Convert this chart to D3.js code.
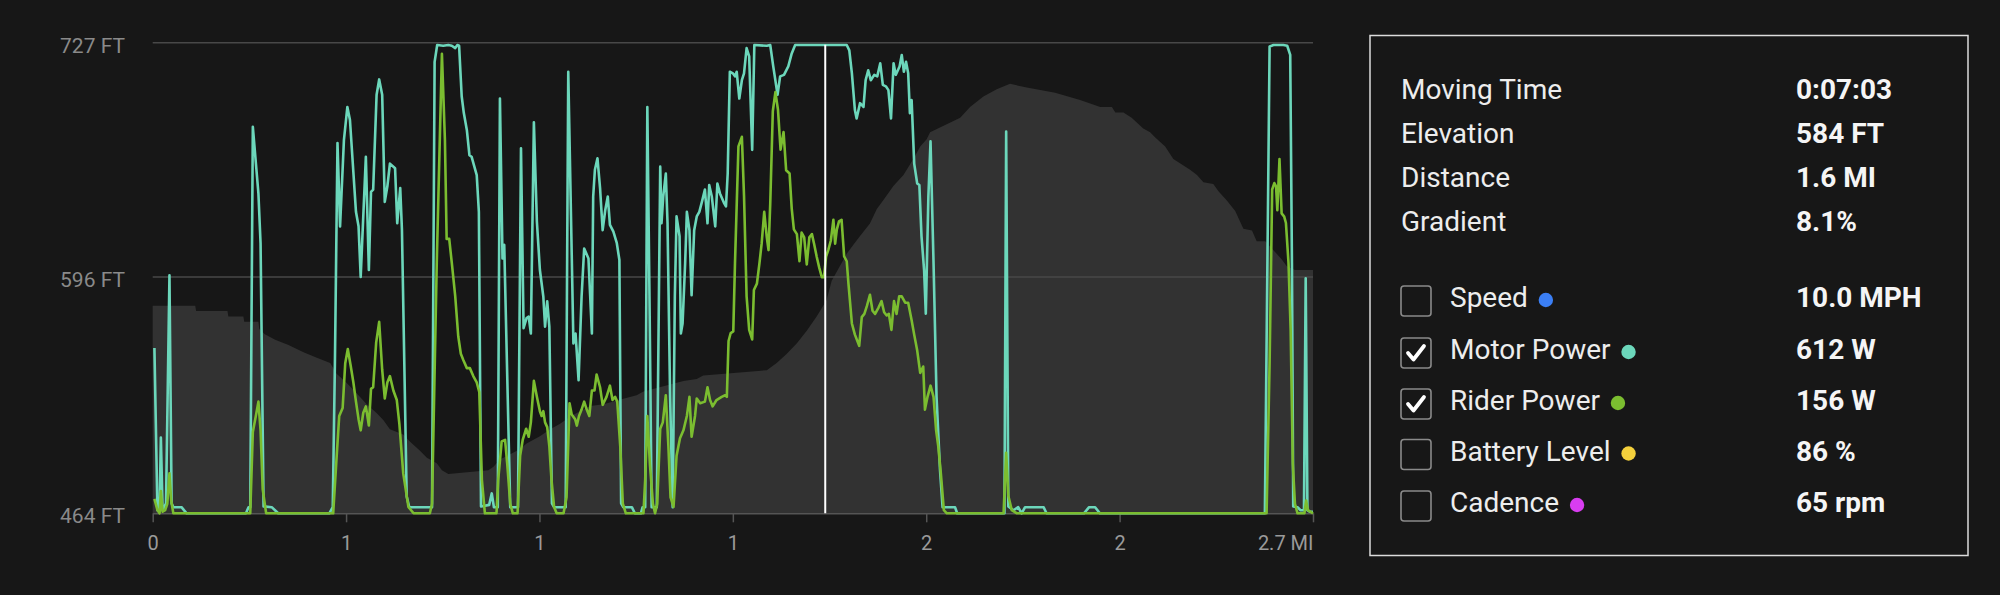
<!DOCTYPE html>
<html>
<head>
<meta charset="utf-8">
<script src="https://cdn.jsdelivr.net/npm/d3@7"></script>
<style>
  html, body { margin: 0; padding: 0; background: #171717; }
  svg { display: block; }
  text { font-family: Roboto, "DejaVu Sans", sans-serif; }
</style>
</head>
<body>
<svg id="chart" width="2000" height="595"></svg>
<script>
// ---------------- DATA ----------------
const distanceMax = 2.7; // miles
const xTickValues = [0, 0.45, 0.9, 1.35, 1.8, 2.25, 2.7];
const xTickLabels = ["0", "1", "1", "1", "2", "2", "2.7 MI"];
const yTickValues = [464, 596, 727];
const yTickLabels = ["464 FT", "596 FT", "727 FT"];
const cursorDistance = 1.565;

// Elevation profile (ft)
const elevDist = [0,0.099,0.101,0.174,0.176,0.211,0.213,0.246,0.248,0.261,0.285,0.316,0.351,0.382,0.413,0.428,0.451,0.475,0.498,0.521,0.537,0.552,0.583,0.599,0.622,0.638,0.661,0.673,0.688,0.781,0.793,0.808,0.832,0.855,0.870,0.901,0.925,0.948,0.971,0.994,1.018,1.049,1.095,1.126,1.142,1.173,1.204,1.235,1.266,1.281,1.429,1.452,1.475,1.499,1.522,1.545,1.568,1.580,1.615,1.630,1.646,1.669,1.685,1.700,1.724,1.747,1.770,1.786,1.801,1.809,1.844,1.879,1.902,1.933,1.964,1.995,2.034,2.100,2.158,2.205,2.232,2.240,2.259,2.278,2.305,2.321,2.333,2.356,2.375,2.395,2.414,2.430,2.445,2.468,2.480,2.499,2.519,2.538,2.558,2.569,2.589,2.608,2.627,2.639,2.658,2.700];
const elevFt = [580,580,577,577,574,574,571,571,567,564,561,558,554,551,548,542,537,531,525,520,516,511,508,504,499,495,492,488,486,488,490,494,497,500,503,507,511,514,518,521,524,525,528,530,532,534,536,538,539,541,544,548,553,559,566,574,583,594,609,614,619,626,634,639,647,653,662,669,673,677,681,685,691,697,701,704,702,699,695,691,691,688,688,685,679,677,674,669,662,659,656,653,649,648,644,639,633,623,622,616,616,611,606,602,600,600];

// Motor power (W)
const motorDist = [0.004,0.011,0.016,0.019,0.023,0.031,0.039,0.044,0.048,0.067,0.079,0.217,0.223,0.227,0.233,0.246,0.251,0.258,0.277,0.292,0.411,0.419,0.424,0.430,0.436,0.445,0.453,0.459,0.473,0.479,0.484,0.490,0.496,0.503,0.508,0.513,0.521,0.527,0.534,0.540,0.546,0.552,0.564,0.569,0.576,0.580,0.591,0.597,0.650,0.656,0.662,0.676,0.688,0.696,0.704,0.709,0.713,0.719,0.724,0.731,0.737,0.742,0.754,0.759,0.764,0.783,0.789,0.794,0.803,0.808,0.814,0.818,0.832,0.850,0.857,0.863,0.870,0.875,0.880,0.887,0.894,0.901,0.909,0.913,0.918,0.923,0.929,0.934,0.961,0.967,0.979,0.984,0.991,0.998,1.004,1.014,1.022,1.025,1.029,1.035,1.041,1.047,1.053,1.059,1.064,1.072,1.080,1.086,1.090,1.095,1.115,1.122,1.136,1.140,1.146,1.151,1.156,1.161,1.173,1.181,1.184,1.188,1.194,1.198,1.204,1.210,1.215,1.219,1.226,1.229,1.233,1.239,1.243,1.249,1.254,1.260,1.266,1.272,1.278,1.285,1.291,1.295,1.301,1.309,1.314,1.320,1.330,1.334,1.338,1.343,1.350,1.355,1.359,1.365,1.371,1.376,1.382,1.388,1.395,1.400,1.429,1.437,1.444,1.454,1.460,1.469,1.479,1.487,1.495,1.615,1.621,1.627,1.634,1.638,1.646,1.654,1.659,1.665,1.671,1.679,1.686,1.693,1.699,1.706,1.712,1.718,1.724,1.729,1.734,1.738,1.743,1.748,1.753,1.758,1.762,1.766,1.772,1.779,1.784,1.789,1.795,1.799,1.805,1.810,1.817,1.824,1.832,1.838,1.867,1.872,1.982,1.986,1.991,2.003,2.014,2.022,2.030,2.073,2.080,2.167,2.179,2.193,2.204,2.588,2.599,2.608,2.631,2.640,2.647,2.651,2.654,2.664,2.671,2.679,2.683,2.687,2.693,2.700];
const motorWatts = [216,4,4,99,4,13,311,13,8,8,0,0,8,8,505,418,353,9,8,0,0,8,196,484,375,488,531,514,394,375,309,388,466,318,420,423,547,567,547,407,427,457,451,379,425,370,22,8,8,590,612,611,612,611,608,612,611,545,523,501,468,466,442,394,9,11,26,8,8,542,333,351,8,8,477,242,255,257,235,511,381,318,283,244,277,244,13,8,8,577,222,235,174,283,346,333,235,414,449,464,425,370,396,414,377,368,353,331,13,8,8,0,0,8,8,531,283,8,8,453,379,414,444,379,152,8,283,388,362,235,248,327,394,370,285,370,388,394,407,423,379,429,414,375,431,418,405,401,444,577,575,571,577,542,566,575,608,597,475,612,611,612,584,547,571,573,584,601,612,612,605,575,527,516,536,531,566,579,566,573,571,588,560,558,553,516,588,573,579,584,599,577,590,575,523,540,457,431,429,362,318,261,414,486,327,152,57,8,8,0,0,499,9,4,8,0,8,8,0,0,8,8,0,0,610,612,612,611,599,327,9,8,4,4,307,4,2,2];

// Rider power (W)
const riderDist = [0.004,0.011,0.016,0.019,0.023,0.029,0.034,0.039,0.043,0.048,0.227,0.233,0.240,0.246,0.251,0.256,0.264,0.420,0.427,0.434,0.442,0.448,0.454,0.461,0.467,0.473,0.479,0.484,0.490,0.496,0.503,0.508,0.513,0.520,0.527,0.534,0.540,0.546,0.552,0.560,0.568,0.574,0.583,0.595,0.607,0.645,0.650,0.661,0.673,0.680,0.684,0.690,0.696,0.704,0.711,0.717,0.723,0.731,0.738,0.746,0.754,0.760,0.766,0.773,0.800,0.804,0.812,0.820,0.825,0.832,0.838,0.849,0.855,0.861,0.869,0.875,0.880,0.887,0.894,0.901,0.905,0.909,0.913,0.918,0.923,0.928,0.934,0.940,0.956,0.963,0.970,0.975,0.983,0.987,0.992,0.998,1.004,1.010,1.016,1.022,1.028,1.033,1.041,1.047,1.056,1.064,1.070,1.076,1.081,1.088,1.094,1.101,1.142,1.146,1.151,1.157,1.164,1.169,1.174,1.181,1.187,1.194,1.200,1.205,1.212,1.219,1.227,1.235,1.243,1.249,1.254,1.262,1.266,1.274,1.285,1.291,1.297,1.303,1.312,1.324,1.332,1.336,1.340,1.345,1.351,1.355,1.363,1.371,1.376,1.382,1.388,1.395,1.399,1.406,1.412,1.417,1.423,1.429,1.433,1.437,1.443,1.449,1.455,1.461,1.468,1.474,1.482,1.487,1.492,1.499,1.505,1.510,1.516,1.522,1.528,1.534,1.539,1.545,1.551,1.557,1.562,1.567,1.572,1.578,1.584,1.588,1.592,1.597,1.603,1.609,1.615,1.619,1.627,1.634,1.644,1.650,1.656,1.662,1.669,1.675,1.681,1.689,1.696,1.702,1.708,1.713,1.719,1.725,1.731,1.737,1.743,1.751,1.758,1.766,1.772,1.779,1.786,1.793,1.797,1.803,1.810,1.817,1.823,1.828,1.834,1.841,1.848,1.980,1.986,1.991,1.999,2.011,2.592,2.599,2.605,2.610,2.614,2.617,2.622,2.627,2.633,2.637,2.643,2.648,2.653,2.658,2.664,2.680,2.684,2.688,2.700];
const riderWatts = [9,2,0,14,1,2,6,25,8,0,0,51,61,70,52,15,0,0,31,61,66,94,103,92,82,70,59,52,63,67,55,78,79,107,120,90,72,82,86,77,71,56,25,4,0,0,6,157,288,234,172,172,157,136,111,100,96,91,91,86,82,76,21,0,0,21,45,46,31,6,0,0,36,46,53,48,57,83,73,64,61,64,57,54,42,21,4,0,0,10,69,62,59,55,61,65,70,65,61,77,77,87,79,68,73,80,71,73,70,42,6,0,0,21,61,31,6,0,6,53,57,74,42,10,4,36,47,52,61,73,48,61,72,69,70,79,71,67,71,73,74,73,108,113,114,157,230,236,199,136,115,109,140,144,157,169,189,173,165,194,252,264,253,228,239,215,213,191,178,175,158,176,173,156,173,175,169,161,154,148,148,161,165,171,184,169,178,183,184,161,158,144,119,112,105,123,125,130,137,127,125,129,133,126,124,125,115,133,125,136,136,132,132,121,112,102,88,92,65,73,80,73,52,42,25,2,0,0,38,11,2,0,0,94,203,207,205,190,222,188,186,182,157,115,31,6,0,0,8,2,0];

// Info panel
const statLabels = ["Moving Time", "Elevation", "Distance", "Gradient"];
const statValues = ["0:07:03", "584 FT", "1.6 MI", "8.1%"];
const seriesNames = ["Speed", "Motor Power", "Rider Power", "Battery Level", "Cadence"];
const seriesReadouts = ["10.0 MPH", "612 W", "156 W", "86 %", "65 rpm"];
const seriesColors = ["#3b7ff5", "#6cd7bb", "#7bbd30", "#f4d03c", "#d83df0"];
const seriesChecked = [false, true, true, false, false];

// ---------------- CHART ----------------
const svg = d3.select("#chart");
const plotLeft = 152.7, plotRight = 1313, plotTop = 42.7, plotBottom = 513.3;

const x = d3.scaleLinear().domain([0, distanceMax]).range([plotLeft, plotRight]);
const yElev = d3.scaleLinear().domain([464, 727]).range([plotBottom, plotTop]);
const yMotor = d3.scaleLinear().domain([0, 615]).range([plotBottom, plotTop]);
const yRider = d3.scaleLinear().domain([0, 295]).range([plotBottom, plotTop]);

const elevData = elevDist.map((d, i) => ({ d, v: elevFt[i] }));
const motorData = motorDist.map((d, i) => ({ d, v: motorWatts[i] }));
const riderData = riderDist.map((d, i) => ({ d, v: riderWatts[i] }));

// elevation area
svg.append("path")
  .datum(elevData)
  .attr("fill", "#323232")
  .attr("d", d3.area()
    .x(p => x(p.d))
    .y0(yElev(464))
    .y1(p => yElev(p.v)));

// gridlines (above baseline)
svg.append("g").selectAll("line")
  .data(yTickValues.slice(1))
  .join("line")
  .attr("x1", x(0)).attr("x2", x(distanceMax))
  .attr("y1", d => yElev(d)).attr("y2", d => yElev(d))
  .attr("stroke", "#484848").attr("stroke-width", 1.5);

// y labels
svg.append("g").selectAll("text")
  .data(yTickValues)
  .join("text")
  .attr("x", 125)
  .attr("y", d => yElev(d) + 10)
  .attr("text-anchor", "end")
  .attr("fill", "#8a8a8a")
  .attr("font-size", 21)
  .text((d, i) => yTickLabels[i]);

// x axis
const xAxis = svg.append("g")
  .attr("transform", `translate(0,${plotBottom})`)
  .call(d3.axisBottom(x).tickValues(xTickValues).tickFormat((d, i) => xTickLabels[i]).tickSize(9).tickSizeOuter(0));
xAxis.select(".domain").attr("stroke", "#555").attr("stroke-width", 1.5);
xAxis.selectAll(".tick line").attr("stroke", "#555").attr("stroke-width", 1.5);
xAxis.selectAll(".tick text")
  .attr("fill", "#9a9a9a")
  .attr("font-size", 20)
  .attr("font-family", 'Roboto, "DejaVu Sans", sans-serif')
  .attr("y", 23);
xAxis.selectAll(".tick text").filter((d, i) => i === xTickValues.length - 1)
  .attr("text-anchor", "end");

// power lines
svg.append("path")
  .datum(motorData)
  .attr("fill", "none")
  .attr("stroke", seriesColors[1])
  .attr("stroke-width", 2.6)
  .attr("stroke-linejoin", "round")
  .attr("d", d3.line().x(p => x(p.d)).y(p => yMotor(p.v)));

svg.append("path")
  .datum(riderData)
  .attr("fill", "none")
  .attr("stroke", seriesColors[2])
  .attr("stroke-width", 2.6)
  .attr("stroke-linejoin", "round")
  .attr("d", d3.line().x(p => x(p.d)).y(p => yRider(p.v)));

// cursor
svg.append("line")
  .attr("x1", x(cursorDistance)).attr("x2", x(cursorDistance))
  .attr("y1", yElev(727) + 2).attr("y2", plotBottom)
  .attr("stroke", "#ffffff").attr("stroke-width", 2);

// ---------------- PANEL ----------------
const panel = svg.append("g");
panel.append("rect")
  .attr("x", 1370).attr("y", 35.5).attr("width", 598).attr("height", 520)
  .attr("fill", "none").attr("stroke", "#dcdcdc").attr("stroke-width", 1.5);

const statBase = [99, 143, 187, 230.5];
panel.append("g").selectAll("text")
  .data(statLabels).join("text")
  .attr("x", 1401).attr("y", (d, i) => statBase[i])
  .attr("fill", "#ededed").attr("font-size", 28)
  .text(d => d);
panel.append("g").selectAll("text")
  .data(statValues).join("text")
  .attr("x", 1796).attr("y", (d, i) => statBase[i])
  .attr("fill", "#f5f5f5").attr("font-size", 28).attr("font-weight", "bold")
  .text(d => d);

const rowBase = [307, 359, 410, 460.5, 512];
const rows = panel.append("g").selectAll("g")
  .data(seriesNames).join("g")
  .attr("transform", (d, i) => `translate(0,${rowBase[i]})`);

rows.append("rect")
  .attr("x", 1401).attr("y", -21).attr("width", 30).attr("height", 30).attr("rx", 3)
  .attr("fill", "none").attr("stroke", "#8a8a8a").attr("stroke-width", 1.6);

rows.filter((d, i) => seriesChecked[i])
  .append("path")
  .attr("d", "M1408,-6 L1413.5,0.5 L1424,-13")
  .attr("fill", "none").attr("stroke", "#ffffff").attr("stroke-width", 3.8)
  .attr("stroke-linecap", "round").attr("stroke-linejoin", "round");

rows.append("text")
  .attr("x", 1450).attr("y", 0)
  .attr("fill", "#ededed").attr("font-size", 28)
  .text(d => d);

rows.each(function(d, i) {
  const w = d3.select(this).select("text").node().getComputedTextLength();
  d3.select(this).append("circle")
    .attr("cx", 1450 + w + 18).attr("cy", -7).attr("r", 7.2)
    .attr("fill", seriesColors[i]);
});

rows.append("text")
  .attr("x", 1796).attr("y", 0)
  .attr("fill", "#f5f5f5").attr("font-size", 28).attr("font-weight", "bold")
  .text((d, i) => seriesReadouts[i]);
</script>
</body>
</html>
